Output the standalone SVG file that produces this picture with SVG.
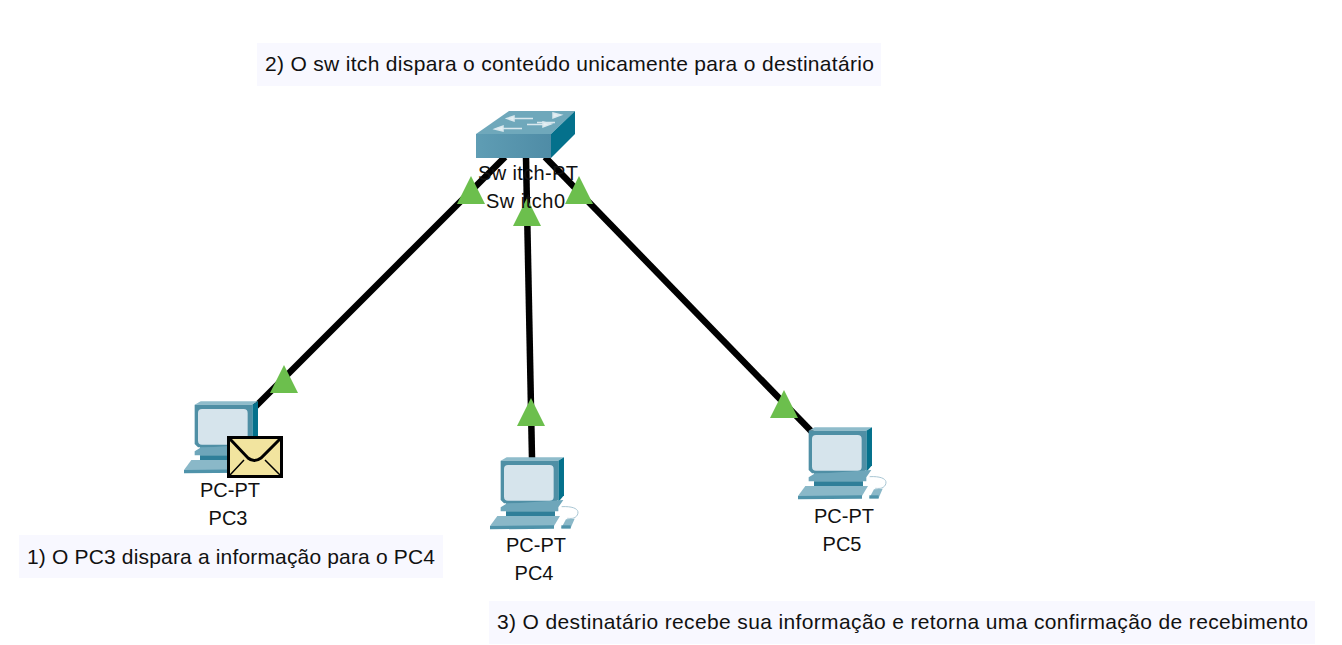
<svg xmlns="http://www.w3.org/2000/svg" width="1342" height="645" viewBox="0 0 1342 645">
<style>
text{font-family:"Liberation Sans",Arial,sans-serif;font-size:20px;fill:#111}
.note{font-size:21px}
.lbl{text-anchor:middle}
.panel{fill:#f8f8ff}
.link{stroke:#000;stroke-width:6.500;fill:none}
.tri{fill:#6cbf4d}
</style>
<defs>
<linearGradient id="front" x1="0" x2="1" y1="0" y2="0"><stop offset="0" stop-color="#5f9db4"/><stop offset="1" stop-color="#4f8ca6"/></linearGradient>
<polygon id="t" class="tri" points="0,0 14,28 -14,28"/>
<g id="pc" transform="scale(0.3333)">
<path d="M245 170C285 168 300 180 292 195C285 208 270 205 262 205" fill="none" stroke="#a9c6d3" stroke-width="3"/>
<polygon points="62,32 80,22 252,22 235,32" fill="#8fbccb"/>
<polygon points="235,32 252,22 252,136 235,156" fill="#04718c"/>
<polygon points="62,32 235,32 235,150 220,160 72,160 62,150" fill="#4f8fa5"/>
<rect x="72" y="45" width="149" height="107" rx="12" fill="#d6e4ec"/>
<polygon points="78,160 222,160 222,172 78,172" fill="#3f8aa3"/>
<polygon points="62,172 78,162 250,150 235,172 235,184 62,184" fill="#6ea6ba"/>
<polygon points="78,184 225,184 225,198 78,198" fill="#2f7f99"/>
<polygon points="52,198 240,198 222,228 30,236 30,228" fill="#8ab8c8"/>
<polygon points="30,228 222,226 222,236 30,238" fill="#4f93aa"/>
<polygon points="258,208 284,206 272,234 244,234" fill="#8ab8c8"/>
<polygon points="244,226 272,226 272,236 244,236" fill="#4f93aa"/>
</g>
</defs>
<rect width="1342" height="645" fill="#fff"/>
<g id="connectors">
<line class="link" x1="255" y1="407" x2="505" y2="157"/>
<line class="link" x1="526" y1="157" x2="532" y2="458"/>
<line class="link" x1="545" y1="157" x2="812" y2="432"/>
</g>
<g id="note2"><rect class="panel" x="257" y="43" width="624" height="43"/><text class="note" x="265" y="71" textLength="609" lengthAdjust="spacing">2) O sw itch dispara o conteúdo unicamente para o destinatário</text></g>
<g id="note1"><rect class="panel" x="19" y="535" width="424" height="43"/><text class="note" x="27" y="564" textLength="408" lengthAdjust="spacing">1) O PC3 dispara a informação para o PC4</text></g>
<g id="note3"><rect class="panel" x="489" y="601" width="826" height="43"/><text class="note" x="497" y="629" textLength="811" lengthAdjust="spacing">3) O destinatário recebe sua informação e retorna uma confirmação de recebimento</text></g>
<g id="link-lights">
<use href="#t" x="284" y="365"/>
<use href="#t" x="471" y="176"/>
<use href="#t" x="527" y="198"/>
<use href="#t" x="579" y="176"/>
<use href="#t" x="531" y="398"/>
<use href="#t" x="784" y="390"/>
</g>
<g id="switch0">
<polygon points="476,134 509,111 575,111 551,134" fill="#6fa8bb"/>
<polygon points="551,134 575,111 575,134 551,158" fill="#04718c"/>
<rect x="476" y="134" width="75" height="24" fill="url(#front)"/>
<g stroke="#d9e8ee" stroke-width="1.500" fill="#e6f0f4">
<path d="M510 118.500H533M537 122.500H555M497 128.500H522M527 124.500H546" fill="none"/>
<polygon points="507,118.500 514,116 514,121"/><polygon points="561,115 553,113 553,118"/>
<polygon points="495,129 503,126 503,131"/><polygon points="551,124 543,122 543,127"/>
</g>
<text x="478" y="180" textLength="100">Sw itch-PT</text>
<text x="486" y="208" textLength="79">Sw itch0</text>
</g>
<g id="pc3">
<use href="#pc" transform="translate(174,394)"/>
<g transform="translate(227,436)">
<rect x="1.500" y="1.500" width="53" height="39" fill="#f2e49f" stroke="#000" stroke-width="3"/>
<path d="M3 3L21 22Q27 27 34 22L53 3" fill="none" stroke="#000" stroke-width="3"/>
<path d="M3 39L17 24M53 39L38 24" fill="none" stroke="#000" stroke-width="1.500"/>
</g>
<text class="lbl" x="230" y="497">PC-PT</text>
<text class="lbl" x="228" y="525">PC3</text>
</g>
<g id="pc4">
<use href="#pc" transform="translate(480,450)"/>
<text class="lbl" x="536" y="552">PC-PT</text>
<text class="lbl" x="534" y="580">PC4</text>
</g>
<g id="pc5">
<use href="#pc" transform="translate(788,420)"/>
<text class="lbl" x="844" y="523">PC-PT</text>
<text class="lbl" x="842" y="551">PC5</text>
</g>
</svg>
